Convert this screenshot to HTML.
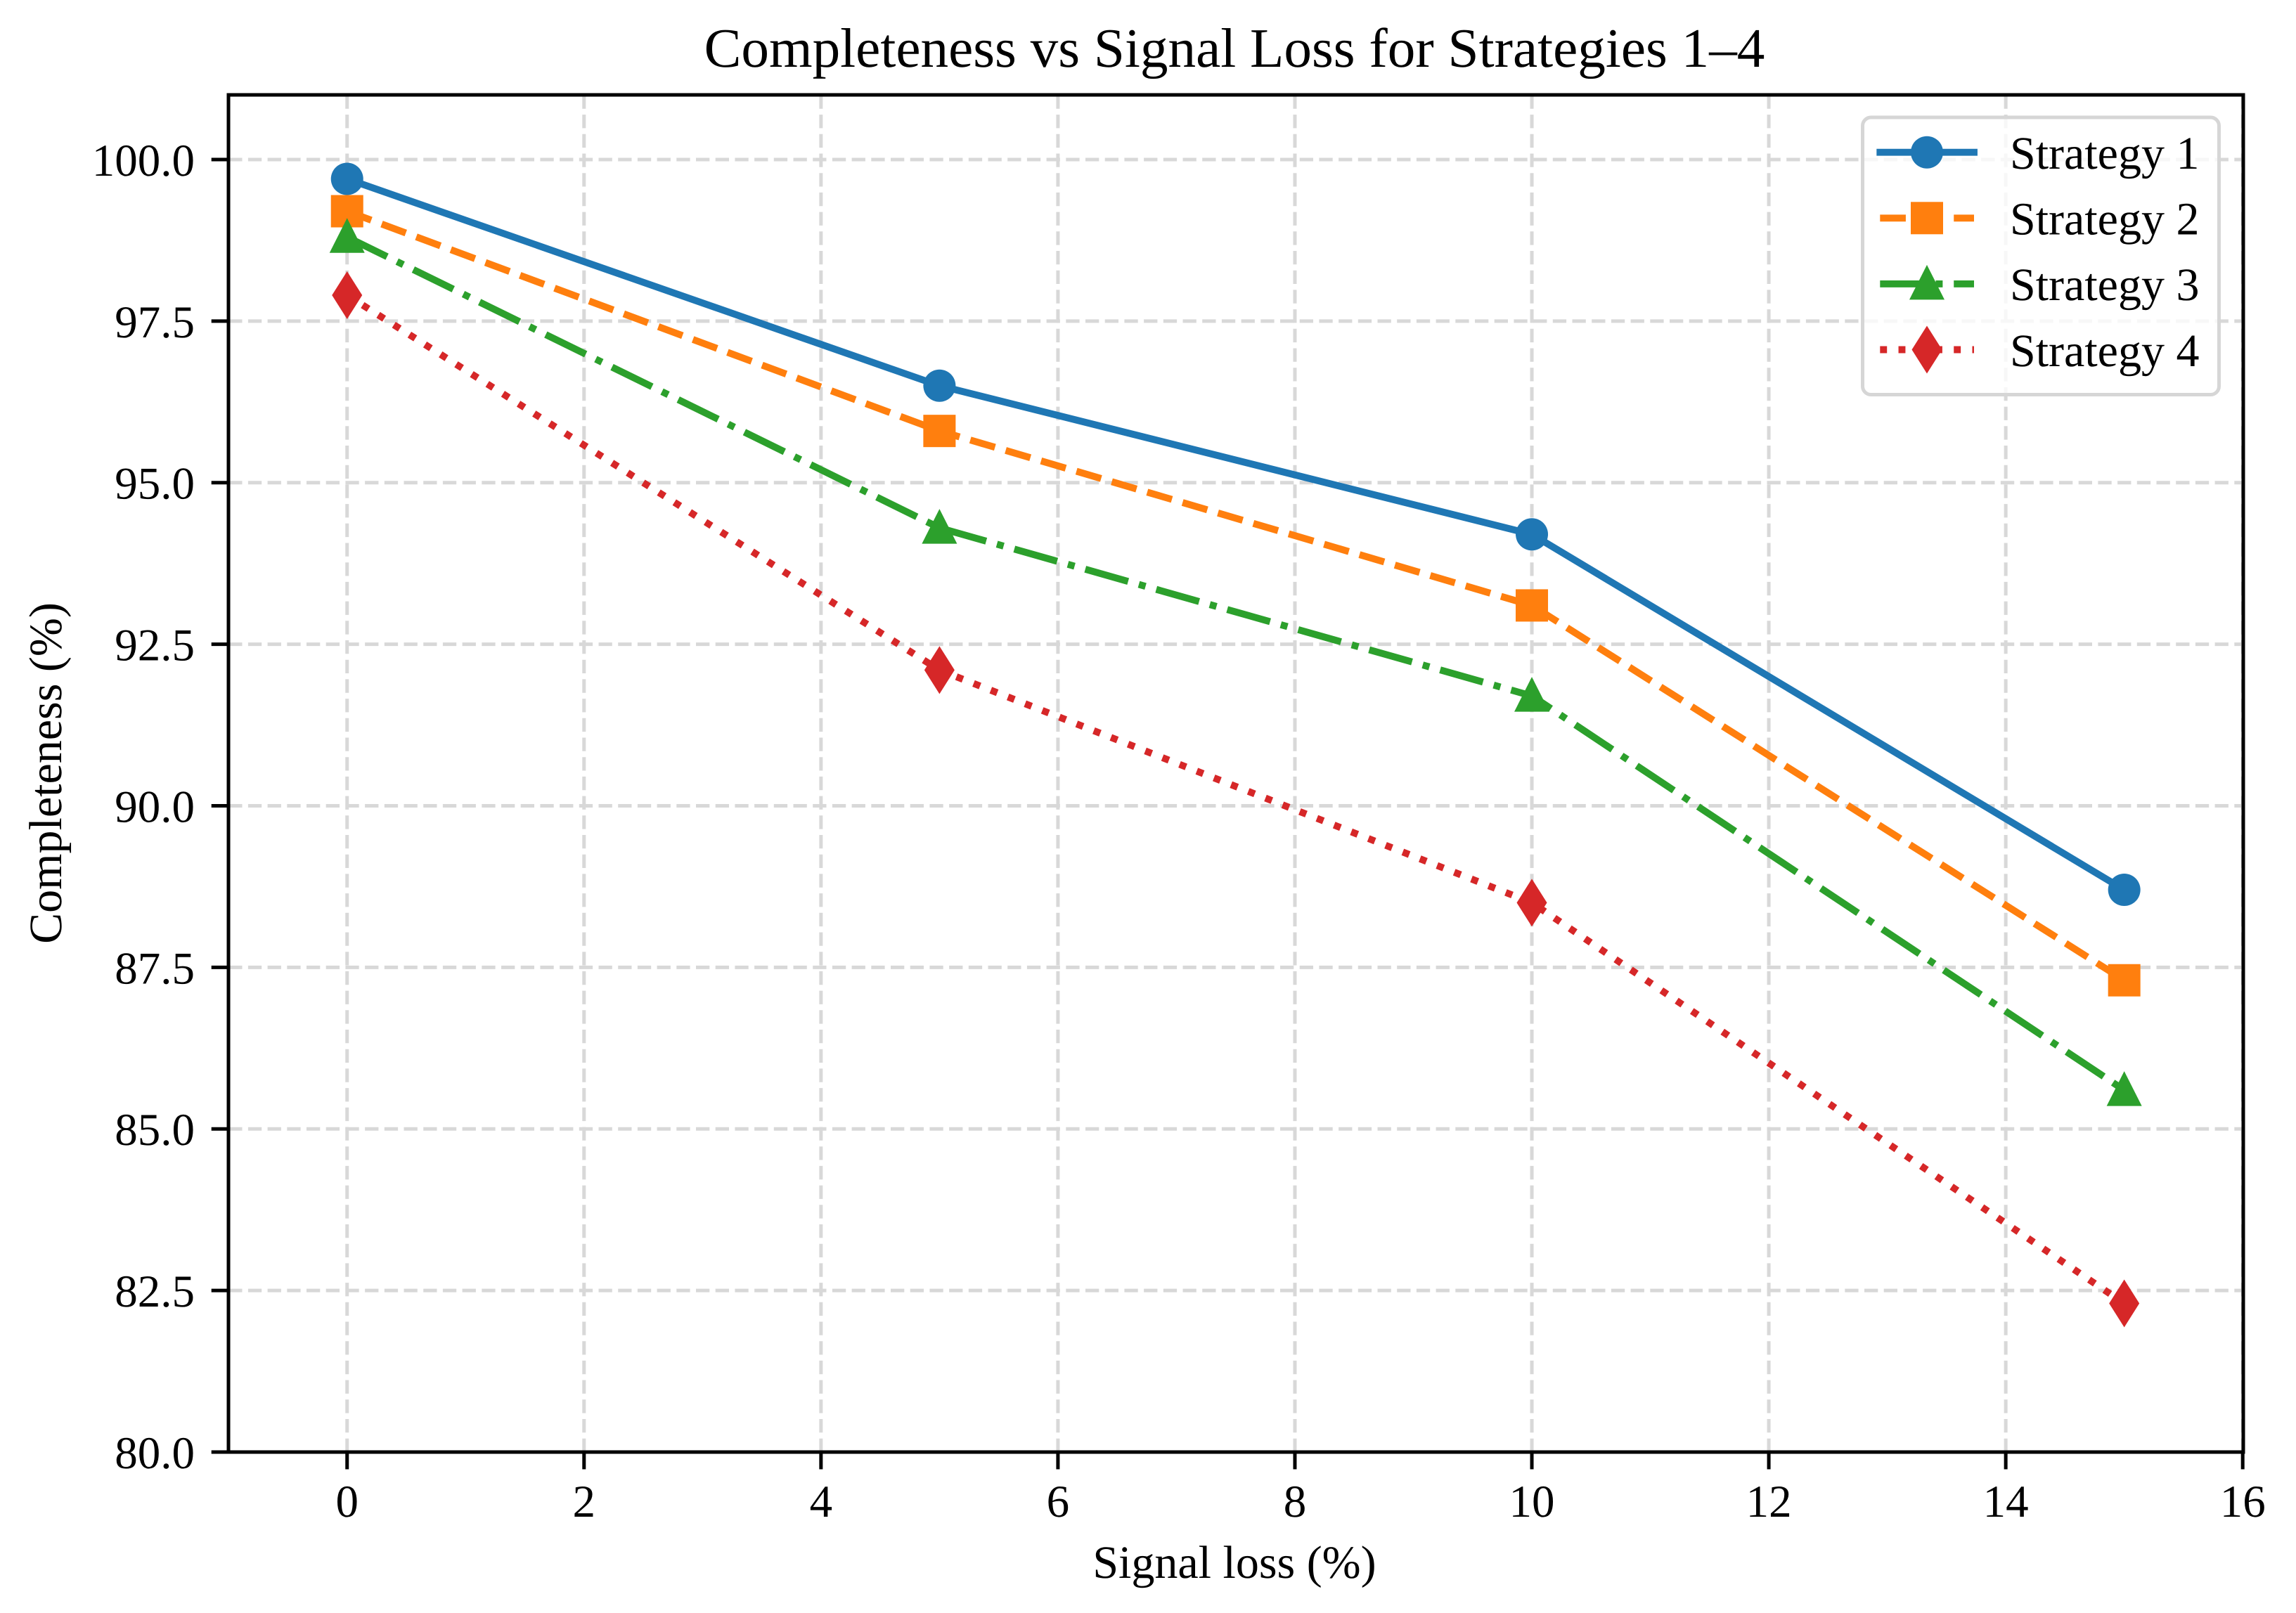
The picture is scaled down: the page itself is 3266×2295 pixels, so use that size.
<!DOCTYPE html>
<html lang="en">
<head>
<meta charset="utf-8">
<title>Completeness vs Signal Loss for Strategies 1–4</title>
<style>
  html, body { margin: 0; padding: 0; background: #ffffff; }
  svg { display: block; text-rendering: geometricPrecision; }
  text { font-family: "Liberation Serif", "Times New Roman", serif; fill: #000000; }
</style>
</head>
<body>
<svg id="chart" xmlns="http://www.w3.org/2000/svg" width="3266" height="2295" viewBox="0 0 3266 2295">
  <rect x="0" y="0" width="3266" height="2295" fill="#ffffff"/>
  <text x="1756" y="95" font-size="79.2" text-anchor="middle">Completeness vs Signal Loss for Strategies 1–4</text>
  <text x="1756" y="2245" font-size="66" text-anchor="middle">Signal loss (%)</text>
  <text x="0" y="0" font-size="66" text-anchor="middle" transform="translate(87 1100) rotate(-90)">Completeness (%)</text>
  <g id="grid"></g>
  <g id="series"></g>
  <g id="ticks"></g>
  <rect x="325" y="135" width="2866" height="1931" fill="none" stroke="#000000" stroke-width="5"/>
  <g id="legend">
    <rect x="2649.5" y="167" width="507" height="394.5" rx="12" ry="12" fill="#ffffff" fill-opacity="0.8" stroke="#d6d6d6" stroke-width="5"/>
  </g>
</svg>
<script>
const seriesNames = ["Strategy 1", "Strategy 2", "Strategy 3", "Strategy 4"];
const signalLoss = [0, 5, 10, 15];
const strategy1 = [99.7, 96.5, 94.2, 88.7];
const strategy2 = [99.2, 95.8, 93.1, 87.3];
const strategy3 = [98.8, 94.3, 91.7, 85.6];
const strategy4 = [97.9, 92.1, 88.5, 82.3];
const xTicks = [0, 2, 4, 6, 8, 10, 12, 14, 16];
const yTicks = ["80.0", "82.5", "85.0", "87.5", "90.0", "92.5", "95.0", "97.5", "100.0"];

const NS = "http://www.w3.org/2000/svg";
const plot = { left: 325.2, right: 3190.2, top: 135, bottom: 2066, xMin: -1, xMax: 16, yMin: 80, yMax: 101 };
function xScale(v) { return plot.left + (v - plot.xMin) / (plot.xMax - plot.xMin) * (plot.right - plot.left); }
function yScale(v) { return plot.bottom - (v - plot.yMin) / (plot.yMax - plot.yMin) * (plot.bottom - plot.top); }

function make(tag, attrs, parent) {
  const el = document.createElementNS(NS, tag);
  for (const k in attrs) el.setAttribute(k, attrs[k]);
  parent.appendChild(el);
  return el;
}

const LW = 9.9;
const styles = [
  { color: "#1f77b4", dash: "none", cap: "square", marker: "circle" },
  { color: "#ff7f0e", dash: (3.7 * LW) + " " + (1.6 * LW), cap: "butt", marker: "square" },
  { color: "#2ca02c", dash: (6.4 * LW) + " " + (1.6 * LW) + " " + LW + " " + (1.6 * LW), cap: "butt", marker: "triangle" },
  { color: "#d62728", dash: LW + " " + (1.65 * LW), cap: "butt", marker: "diamond" }
];

function drawMarker(kind, cx, cy, color, parent) {
  let m;
  if (kind === "circle") {
    m = make("circle", { cx: cx, cy: cy, r: 23, fill: color }, parent);
  } else if (kind === "square") {
    m = make("rect", { x: cx - 23, y: cy - 23, width: 46, height: 46, fill: color }, parent);
  } else if (kind === "triangle") {
    const pts = [[cx, cy - 27], [cx - 25, cy + 22.5], [cx + 25, cy + 22.5]];
    m = make("polygon", { points: pts.map(p => p.join(",")).join(" "), fill: color }, parent);
  } else {
    const pts = [[cx, cy - 34], [cx + 21.5, cy], [cx, cy + 34], [cx - 21.5, cy]];
    m = make("polygon", { points: pts.map(p => p.join(",")).join(" "), fill: color }, parent);
  }
  return m;
}

/* grid */
const gridGroup = document.getElementById("grid");
const GRID_DASH = "19.3 8.4";
xTicks.forEach(function (t) {
  const line = make("line", { x1: xScale(t), x2: xScale(t), y1: plot.bottom, y2: plot.top, stroke: "#d8d8d8", "stroke-width": 5, "stroke-dasharray": GRID_DASH }, gridGroup);
  
  
});
yTicks.forEach(function (t) {
  const line = make("line", { x1: plot.left, x2: plot.right, y1: yScale(parseFloat(t)), y2: yScale(parseFloat(t)), stroke: "#d8d8d8", "stroke-width": 5, "stroke-dasharray": GRID_DASH }, gridGroup);
  
  
});

/* series */
const seriesGroup = document.getElementById("series");
[strategy1, strategy2, strategy3, strategy4].forEach(function (values, i) {
  const s = styles[i];
  const g = make("g", {}, seriesGroup);
  
  
  const pts = values.map(function (v, j) { return xScale(signalLoss[j]) + "," + yScale(v); }).join(" ");
  const line = make("polyline", { points: pts, fill: "none", stroke: s.color, "stroke-width": LW, "stroke-linejoin": "round", "stroke-linecap": s.cap, "stroke-dasharray": s.dash }, g);
  
  
  values.forEach(function (v, j) {
    const m = drawMarker(s.marker, xScale(signalLoss[j]), yScale(v), s.color, g);
    
    
  });
});

/* ticks */
const tickGroup = document.getElementById("ticks");
xTicks.forEach(function (t) {
  const mark = make("line", { x1: xScale(t), x2: xScale(t), y1: plot.bottom, y2: plot.bottom + 24.5, stroke: "#000000", "stroke-width": 5 }, tickGroup);
  
  
  const label = make("text", { x: xScale(t), y: 2158, "font-size": 65, "text-anchor": "middle" }, tickGroup);
  label.textContent = String(t);
  
  
});
yTicks.forEach(function (t) {
  const y = yScale(parseFloat(t));
  const mark = make("line", { x1: plot.left, x2: plot.left - 24.5, y1: y, y2: y, stroke: "#000000", "stroke-width": 5 }, tickGroup);
  
  
  const label = make("text", { x: 277, y: y + 23, "font-size": 65, "text-anchor": "end" }, tickGroup);
  label.textContent = t;
  
  
});

/* legend */
const legendGroup = document.getElementById("legend");
seriesNames.forEach(function (name, i) {
  const s = styles[i];
  const cy = 216.7 + i * 93.6;
  const g = make("g", {}, legendGroup);
  
  
  const sample = make("line", { x1: 2674.3, x2: 2808, y1: cy, y2: cy, stroke: s.color, "stroke-width": LW, "stroke-linecap": s.cap, "stroke-dasharray": s.dash }, g);
  
  
  const marker = drawMarker(s.marker, 2741, cy, s.color, g);
  
  
  const label = make("text", { x: 2859, y: cy + 23.3, "font-size": 66 }, g);
  label.textContent = name;
  
  
});
</script>
</body>
</html>
